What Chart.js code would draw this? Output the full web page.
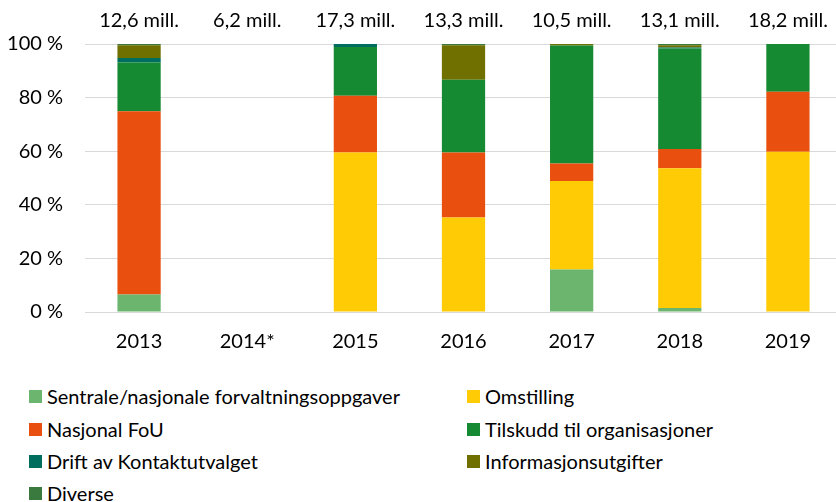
<!DOCTYPE html>
<html>
<head>
<meta charset="utf-8">
<script src="https://cdn.jsdelivr.net/npm/chart.js@4"></script>
<style>
  html, body { margin: 0; padding: 0; background: #fff; overflow: hidden; }
  #wrap { position: relative; width: 842px; height: 502px; }
  #chart-box { position: absolute; left: 0; top: 0; width: 842px; height: 364px; }
  #legend { position: absolute; left: 0; top: 0; font-family: Lato, sans-serif; font-size: 20px; color: #000; }
  .item { position: absolute; white-space: nowrap; height: 24px; display: flex; align-items: center; }
  .box { display: inline-block; width: 13px; height: 13px; margin-right: 5px; }
</style>
</head>
<body>
<div id="wrap">
  <div id="chart-box"><canvas id="chart"></canvas></div>
  <div id="legend"></div>
</div>
<script>
const years = ['2013', '2014*', '2015', '2016', '2017', '2018', '2019'];
const totals = ['12,6 mill.', '6,2 mill.', '17,3 mill.', '13,3 mill.', '10,5 mill.', '13,1 mill.', '18,2 mill.'];

// shares in percent (2014 has no bar)
const sentrale = [6.5, null, 0, 0, 15.9, 1.5, 0];
const nasjonalFou = [68.4, null, 21.2, 24.2, 6.5, 7.2, 22.4];
const driftKontakt = [1.7, null, 1.1, 0, 0, 0.4, 0];
const diverse = [0.5, null, 0, 0.5, 0, 0.5, 0];
const omstilling = [0, null, 59.5, 35.3, 33.0, 52.1, 59.8];
const tilskudd = [18.2, null, 18.2, 27.2, 44.0, 37.5, 17.8];
const informasjon = [4.7, null, 0, 12.8, 0.6, 0.8, 0];

const series = [
  { label: 'Sentrale/nasjonale forvaltningsoppgaver', data: sentrale, color: '#6bb56f' },
  { label: 'Omstilling', data: omstilling, color: '#ffcb05' },
  { label: 'Nasjonal FoU', data: nasjonalFou, color: '#e9500f' },
  { label: 'Tilskudd til organisasjoner', data: tilskudd, color: '#168a32' },
  { label: 'Drift av Kontaktutvalget', data: driftKontakt, color: '#006e5e' },
  { label: 'Informasjonsutgifter', data: informasjon, color: '#6f7000' },
  { label: 'Diverse', data: diverse, color: '#3b7a3f' }
];

const font = { family: 'Lato, sans-serif', size: 20 };

const totalsPlugin = {
  id: 'totals',
  afterDraw(chart) {
    const ctx = chart.ctx;
    const x = chart.scales.x;
    ctx.save();
    ctx.font = '20px Lato, sans-serif';
    ctx.fillStyle = '#000';
    ctx.textAlign = 'center';
    ctx.textBaseline = 'middle';
    totals.forEach((t, i) => {
      ctx.fillText(t, x.getPixelForValue(i), 21);
    });
    ctx.restore();
  }
};

new Chart(document.getElementById('chart'), {
  type: 'bar',
  data: {
    labels: years,
    datasets: series.map((s) => ({
      label: s.label,
      data: s.data,
      backgroundColor: s.color,
      borderWidth: 0,
      categoryPercentage: 1,
      barPercentage: 0.4
    }))
  },
  options: {
    responsive: true,
    maintainAspectRatio: false,
    animation: false,
    layout: { padding: { top: 44, left: 0, right: 0, bottom: 0 } },
    plugins: {
      legend: { display: false },
      tooltip: { enabled: false }
    },
    scales: {
      x: {
        stacked: true,
        grid: { display: false },
        border: { color: '#d9d9d9' },
        ticks: { font, color: '#000', padding: 10 }
      },
      y: {
        stacked: true,
        min: 0,
        max: 100,
        border: { display: false },
        grid: { color: '#d9d9d9', drawTicks: false },
        ticks: { stepSize: 20, font, color: '#000', padding: 22, callback: (v) => v + ' %' },
        afterFit(scale) { scale.width = 85; }
      }
    }
  },
  plugins: [totalsPlugin]
});

// two-column legend like the original
const legend = document.getElementById('legend');
const colX = [29, 467];
const rowY = [384, 417, 449, 481];
series.forEach((s, n) => {
  const item = document.createElement('div');
  item.className = 'item';
  item.style.left = colX[n % 2] + 'px';
  item.style.top = rowY[Math.floor(n / 2)] + 'px';
  item.innerHTML = '<span class="box" style="background:' + s.color + '"></span>' + s.label;
  legend.appendChild(item);
});
</script>
</body>
</html>
